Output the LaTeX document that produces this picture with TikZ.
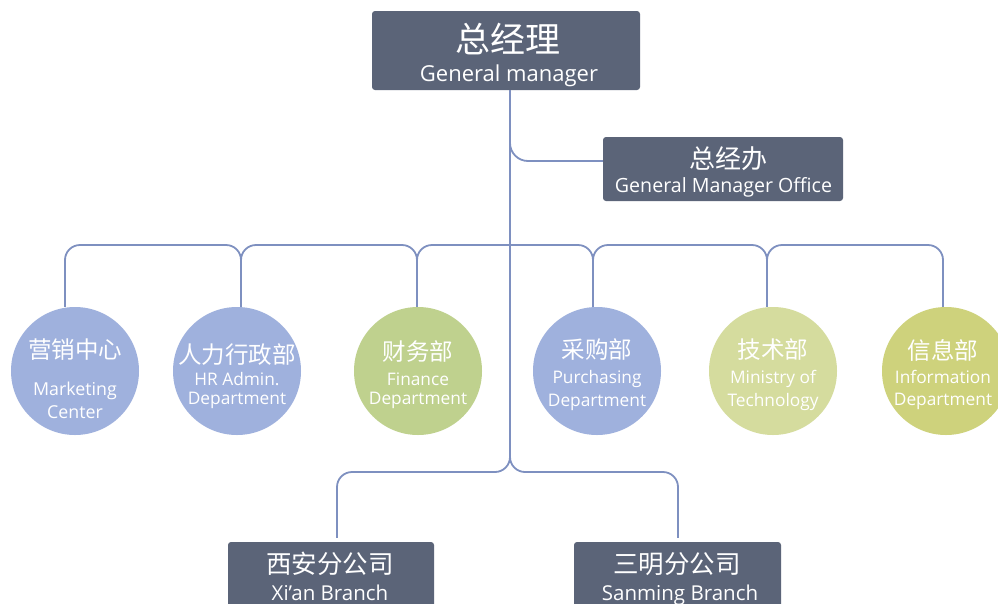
\documentclass[tikz,border=0pt]{standalone}
\usepackage{fontspec}
\setmainfont{Open Sans}
\newfontfamily\cjk{Noto Sans CJK SC}
\definecolor{boxfill}{HTML}{5B6478}
\definecolor{linec}{HTML}{7E90C0}
\definecolor{cblue}{HTML}{9FB1DD}
\definecolor{cgreen}{HTML}{BFD18E}
\definecolor{cpale}{HTML}{D5DC9E}
\definecolor{colive}{HTML}{CED27C}
\tikzset{
  darkbox/.style={draw=none, fill=boxfill, rounded corners=3pt, inner sep=0pt},
  circ/.style={circle, draw=none, minimum size=128pt, inner sep=0pt},
  conn/.style={draw=linec, line width=1.8pt},
  zh/.style={text=white, inner sep=0pt, font=\cjk},
  en/.style={text=white, inner sep=0pt, anchor=base},
}
\begin{document}
\begin{tikzpicture}[x=1pt,y=-1pt]
\useasboundingbox (0,0) rectangle (998,603);
\fill[white] (0,0) rectangle (998,603);

% boxes
\node[darkbox, minimum width=268pt, minimum height=79pt] (gm) at (506,50.5) {};
\node[darkbox, minimum width=240pt, minimum height=64pt] (office) at (723,169) {};
\node[darkbox, minimum width=206pt, minimum height=66pt] (xian) at (331,575) {};
\node[darkbox, minimum width=207pt, minimum height=66pt] (sanming) at (677.5,575) {};

% circles
\node[circ, fill=cblue]  (c1) at (75,371) {};
\node[circ, fill=cblue]  (c2) at (237,371) {};
\node[circ, fill=cgreen] (c3) at (418,371) {};
\node[circ, fill=cblue]  (c4) at (597,371) {};
\node[circ, fill=cpale]  (c5) at (773,371) {};
\node[circ, fill=colive] (c6) at (946,371) {};

% connector coordinates
\coordinate (tsplit) at (510,472);
\coordinate (xl) at (337,472);
\coordinate (xr) at (678,472);
\coordinate (b1) at (65,245);
\coordinate (b2) at (241,245);
\coordinate (b3) at (417,245);
\coordinate (b4) at (593,245);
\coordinate (b5) at (767,245);
\coordinate (b6) at (943,245);

% connectors
\draw[conn, rounded corners=18pt] (gm.south -| tsplit) |- ([yshift=8pt]office.west);
\draw[conn, rounded corners=15pt] (gm.south -| tsplit) -- (tsplit) -| ([yshift=4pt]xian.north -| xl);
\draw[conn, rounded corners=15pt] (gm.south -| tsplit) -- (tsplit) -| ([yshift=4pt]sanming.north -| xr);
\draw[conn, rounded corners=15pt]
  (b1 |- c1.north) -- (b1) -- (b2) -- (b2 |- c2.north)
  (b2 |- c2.north) -- (b2) -- (b3) -- (b3 |- c3.north)
  (b3 |- c3.north) -- (b3) -- (b4) -- (b4 |- c4.north)
  (b4 |- c4.north) -- (b4) -- (b5) -- (b5 |- c5.north)
  (b5 |- c5.north) -- (b5) -- (b6) -- (b6 |- c6.north);

% texts: top
\node[zh, font=\cjk\fontsize{35}{35}\selectfont] (gmzh) at (508,39) {总经理};
\node[en, font=\fontsize{22}{22}\selectfont] (gmen) at (509,81) {General manager};
\node[zh, font=\cjk\fontsize{26}{26}\selectfont] (offzh) at (728,159) {总经办};
\node[en, font=\fontsize{19.6}{19.6}\selectfont] (offen) at (723.5,192) {General Manager Office};
\node[zh, font=\cjk\fontsize{25.5}{25.5}\selectfont] (xianzh) at (330,564) {西安分公司};
\node[en, font=\fontsize{20.5}{20.5}\selectfont] (xianen) at (330,600) {Xi'an Branch};
\node[zh, font=\cjk\fontsize{25.5}{25.5}\selectfont] (sanzh) at (677,564) {三明分公司};
\node[en, font=\fontsize{20.5}{20.5}\selectfont] (sanen) at (680,600) {Sanming Branch};

% circle texts
\tikzset{czh/.style={zh, font=\cjk\fontsize{23.5}{23.5}\selectfont},
         cen/.style={en, font=\fontsize{17.3}{17.3}\selectfont}}
\node[czh] (t1) at (75,350) {营销中心};
\node[cen, font=\fontsize{17.8}{17.8}\selectfont] (t1a) at (75,395) {Marketing};
\node[cen, font=\fontsize{17.8}{17.8}\selectfont] (t1b) at (75,418) {Center};
\node[czh] (t2) at (237,355) {人力行政部};
\node[cen] (t2a) at (237,385) {HR Admin.};
\node[cen] (t2b) at (237,404) {Department};
\node[czh] (t3) at (418,352) {财务部};
\node[cen] (t3a) at (418,385) {Finance};
\node[cen] (t3b) at (418,404) {Department};
\node[czh] (t4) at (597,350) {采购部};
\node[cen] (t4a) at (597,383) {Purchasing};
\node[cen] (t4b) at (597,406) {Department};
\node[czh] (t5) at (773,350) {技术部};
\node[cen] (t5a) at (773,383) {Ministry of};
\node[cen] (t5b) at (773,406) {Technology};
\node[czh] (t6) at (943,350) {信息部};
\node[cen] (t6a) at (943,383) {Information};
\node[cen] (t6b) at (943,405) {Department};
\end{tikzpicture}
\end{document}
